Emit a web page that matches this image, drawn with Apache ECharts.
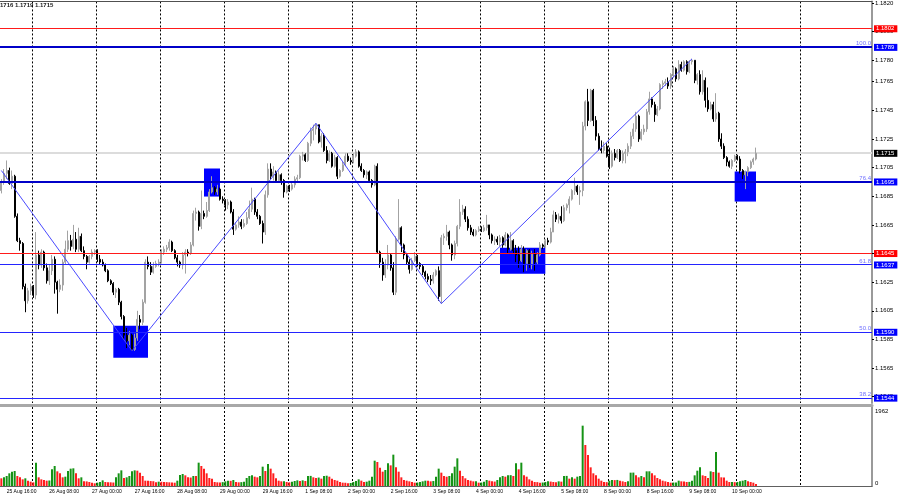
<!DOCTYPE html>
<html><head><meta charset="utf-8">
<script src="https://cdn.jsdelivr.net/npm/echarts@6/dist/echarts.min.js"></script>
<style>html,body{margin:0;padding:0;background:#fff}#c{width:900px;height:500px}</style>
</head><body><div id="c"></div>
<script>
// H1 candles: [open, close, low, high]
const ohlc = [
[1.1689,1.1695,1.1687,1.1697],[1.1695,1.1701,1.1693,1.1704],[1.1701,1.1703,1.1697,1.1710],[1.1703,1.1694,1.1693,1.1705],
[1.1694,1.1699,1.1690,1.1703],[1.1699,1.1671,1.1670,1.1700],[1.1671,1.1654,1.1653,1.1673],[1.1654,1.1652,1.1647,1.1656],
[1.1652,1.1622,1.1620,1.1653],[1.1622,1.1612,1.1604,1.1624],[1.1612,1.1619,1.1610,1.1621],[1.1619,1.1622,1.1616,1.1624],
[1.1622,1.1616,1.1614,1.1623],[1.1616,1.1644,1.1613,1.1660],[1.1644,1.1637,1.1634,1.1647],[1.1637,1.1646,1.1635,1.1648],
[1.1646,1.1635,1.1633,1.1647],[1.1635,1.1626,1.1624,1.1638],[1.1626,1.1633,1.1623,1.1637],[1.1633,1.1641,1.1630,1.1644],
[1.1641,1.1625,1.1617,1.1643],[1.1625,1.1620,1.1603,1.1626],[1.1620,1.1623,1.1618,1.1627],[1.1623,1.1639,1.1619,1.1641],
[1.1639,1.1648,1.1637,1.1654],[1.1648,1.1654,1.1646,1.1661],[1.1654,1.1650,1.1647,1.1658],[1.1650,1.1655,1.1648,1.1665],
[1.1655,1.1648,1.1646,1.1660],[1.1648,1.1657,1.1646,1.1663],[1.1657,1.1647,1.1646,1.1659],[1.1647,1.1643,1.1641,1.1650],
[1.1643,1.1639,1.1634,1.1644],[1.1639,1.1643,1.1638,1.1644],[1.1643,1.1646,1.1641,1.1648],[1.1646,1.1647,1.1644,1.1648],
[1.1647,1.1641,1.1639,1.1648],[1.1641,1.1639,1.1637,1.1644],[1.1639,1.1637,1.1636,1.1641],[1.1637,1.1633,1.1632,1.1638],
[1.1633,1.1626,1.1625,1.1634],[1.1626,1.1624,1.1623,1.1627],[1.1624,1.1618,1.1616,1.1625],[1.1618,1.1620,1.1614,1.1621],
[1.1620,1.1611,1.1609,1.1621],[1.1611,1.1601,1.1599,1.1612],[1.1601,1.1588,1.1585,1.1602],[1.1588,1.1584,1.1579,1.1593],
[1.1584,1.1588,1.1581,1.1591],[1.1588,1.1578,1.1577,1.1589],[1.1578,1.1586,1.1577,1.1589],[1.1586,1.1599,1.1584,1.1605],
[1.1599,1.1597,1.1592,1.1602],[1.1597,1.1611,1.1595,1.1613],[1.1611,1.1639,1.1610,1.1641],[1.1639,1.1636,1.1634,1.1643],
[1.1636,1.1632,1.1630,1.1639],[1.1632,1.1636,1.1631,1.1639],[1.1636,1.1638,1.1635,1.1640],[1.1638,1.1639,1.1636,1.1641],
[1.1639,1.1646,1.1638,1.1648],[1.1646,1.1648,1.1644,1.1650],[1.1648,1.1649,1.1646,1.1651],[1.1649,1.1653,1.1647,1.1655],
[1.1653,1.1647,1.1646,1.1654],[1.1647,1.1642,1.1641,1.1648],[1.1642,1.1639,1.1636,1.1644],[1.1639,1.1637,1.1635,1.1640],
[1.1637,1.1644,1.1634,1.1646],[1.1644,1.1646,1.1631,1.1648],[1.1646,1.1645,1.1643,1.1648],[1.1645,1.1651,1.1644,1.1653],
[1.1651,1.1673,1.1650,1.1675],[1.1673,1.1674,1.1668,1.1677],[1.1674,1.1664,1.1661,1.1675],[1.1664,1.1673,1.1662,1.1689],
[1.1673,1.1671,1.1669,1.1675],[1.1671,1.1675,1.1670,1.1681],[1.1675,1.1688,1.1674,1.1690],[1.1688,1.1691,1.1687,1.1699],
[1.1691,1.1688,1.1686,1.1692],[1.1688,1.1690,1.1686,1.1693],[1.1690,1.1683,1.1682,1.1691],[1.1683,1.1682,1.1680,1.1685],
[1.1682,1.1679,1.1675,1.1683],[1.1679,1.1681,1.1676,1.1683],[1.1681,1.1674,1.1673,1.1682],[1.1674,1.1662,1.1658,1.1676],
[1.1662,1.1665,1.1661,1.1667],[1.1665,1.1667,1.1663,1.1671],[1.1667,1.1664,1.1662,1.1669],[1.1664,1.1666,1.1663,1.1669],
[1.1666,1.1670,1.1665,1.1674],[1.1670,1.1676,1.1669,1.1682],[1.1676,1.1683,1.1674,1.1691],[1.1683,1.1674,1.1672,1.1684],
[1.1674,1.1671,1.1669,1.1676],[1.1671,1.1666,1.1665,1.1672],[1.1666,1.1660,1.1652,1.1668],[1.1660,1.1686,1.1658,1.1689],
[1.1686,1.1704,1.1684,1.1708],[1.1704,1.1699,1.1697,1.1708],[1.1699,1.1702,1.1696,1.1706],[1.1702,1.1696,1.1695,1.1703],
[1.1696,1.1700,1.1695,1.1703],[1.1700,1.1696,1.1693,1.1701],[1.1696,1.1688,1.1684,1.1697],[1.1688,1.1692,1.1687,1.1693],
[1.1692,1.1690,1.1688,1.1693],[1.1690,1.1693,1.1689,1.1695],[1.1693,1.1697,1.1691,1.1699],[1.1697,1.1698,1.1695,1.1700],
[1.1698,1.1713,1.1697,1.1714],[1.1713,1.1714,1.1710,1.1716],[1.1714,1.1710,1.1709,1.1715],[1.1710,1.1722,1.1709,1.1723],
[1.1722,1.1731,1.1720,1.1733],[1.1731,1.1732,1.1724,1.1735],[1.1732,1.1735,1.1728,1.1736],[1.1735,1.1723,1.1722,1.1735],
[1.1723,1.1727,1.1719,1.1729],[1.1727,1.1717,1.1716,1.1729],[1.1717,1.1710,1.1708,1.1720],[1.1710,1.1715,1.1709,1.1717],
[1.1715,1.1706,1.1705,1.1716],[1.1706,1.1712,1.1705,1.1714],[1.1712,1.1699,1.1697,1.1713],[1.1699,1.1703,1.1698,1.1704],
[1.1703,1.1707,1.1702,1.1709],[1.1707,1.1713,1.1706,1.1715],[1.1713,1.1710,1.1709,1.1715],[1.1710,1.1709,1.1707,1.1712],
[1.1709,1.1713,1.1708,1.1715],[1.1713,1.1716,1.1712,1.1718],[1.1716,1.1706,1.1705,1.1717],[1.1706,1.1703,1.1702,1.1708],
[1.1703,1.1700,1.1698,1.1704],[1.1700,1.1702,1.1697,1.1703],[1.1702,1.1696,1.1695,1.1703],[1.1696,1.1693,1.1691,1.1697],
[1.1693,1.1706,1.1692,1.1707],[1.1706,1.1646,1.1645,1.1708],[1.1646,1.1639,1.1635,1.1647],[1.1639,1.1630,1.1626,1.1642],
[1.1630,1.1637,1.1628,1.1641],[1.1637,1.1644,1.1634,1.1651],[1.1644,1.1635,1.1633,1.1645],[1.1635,1.1618,1.1616,1.1639],
[1.1618,1.1655,1.1616,1.1657],[1.1655,1.1663,1.1654,1.1683],[1.1663,1.1651,1.1646,1.1664],[1.1651,1.1644,1.1641,1.1652],
[1.1644,1.1639,1.1637,1.1645],[1.1639,1.1634,1.1631,1.1641],[1.1634,1.1640,1.1633,1.1642],[1.1640,1.1643,1.1639,1.1646],
[1.1643,1.1638,1.1636,1.1644],[1.1638,1.1636,1.1634,1.1639],[1.1636,1.1632,1.1630,1.1637],[1.1632,1.1629,1.1627,1.1633],
[1.1629,1.1627,1.1625,1.1631],[1.1627,1.1626,1.1623,1.1630],[1.1626,1.1630,1.1624,1.1632],[1.1630,1.1633,1.1629,1.1634],
[1.1633,1.1615,1.1612,1.1636],[1.1615,1.1656,1.1610,1.1658],[1.1656,1.1657,1.1651,1.1659],[1.1657,1.1660,1.1654,1.1665],
[1.1660,1.1651,1.1648,1.1661],[1.1651,1.1644,1.1640,1.1652],[1.1644,1.1652,1.1641,1.1654],[1.1652,1.1664,1.1650,1.1665],
[1.1664,1.1674,1.1662,1.1683],[1.1674,1.1676,1.1672,1.1679],[1.1676,1.1669,1.1667,1.1678],[1.1669,1.1663,1.1661,1.1671],
[1.1663,1.1660,1.1658,1.1665],[1.1660,1.1658,1.1657,1.1662],[1.1658,1.1661,1.1657,1.1662],[1.1661,1.1662,1.1660,1.1664],
[1.1662,1.1661,1.1660,1.1664],[1.1661,1.1663,1.1660,1.1665],[1.1663,1.1665,1.1661,1.1672],[1.1665,1.1658,1.1655,1.1665],
[1.1658,1.1654,1.1652,1.1659],[1.1654,1.1655,1.1651,1.1657],[1.1655,1.1653,1.1651,1.1657],[1.1653,1.1656,1.1650,1.1658],
[1.1656,1.1651,1.1649,1.1657],[1.1651,1.1658,1.1650,1.1660],[1.1658,1.1648,1.1645,1.1659],[1.1648,1.1654,1.1647,1.1660],
[1.1654,1.1647,1.1645,1.1655],[1.1647,1.1644,1.1639,1.1651],[1.1644,1.1640,1.1635,1.1650],[1.1640,1.1648,1.1639,1.1651],
[1.1648,1.1638,1.1632,1.1650],[1.1638,1.1647,1.1633,1.1648],[1.1647,1.1637,1.1635,1.1648],[1.1637,1.1645,1.1634,1.1647],
[1.1645,1.1639,1.1633,1.1648],[1.1639,1.1644,1.1637,1.1646],[1.1644,1.1651,1.1643,1.1653],[1.1651,1.1650,1.1648,1.1652],
[1.1650,1.1654,1.1649,1.1655],[1.1654,1.1653,1.1651,1.1656],[1.1653,1.1660,1.1652,1.1663],[1.1660,1.1672,1.1660,1.1675],
[1.1672,1.1669,1.1667,1.1674],[1.1669,1.1671,1.1666,1.1673],[1.1671,1.1668,1.1666,1.1678],[1.1668,1.1677,1.1667,1.1679],
[1.1677,1.1679,1.1675,1.1680],[1.1679,1.1683,1.1673,1.1685],[1.1683,1.1689,1.1682,1.1690],[1.1689,1.1692,1.1686,1.1698],
[1.1692,1.1688,1.1686,1.1693],[1.1688,1.1689,1.1679,1.1692],[1.1689,1.1734,1.1685,1.1737],[1.1734,1.1751,1.1731,1.1752],
[1.1751,1.1738,1.1734,1.1760],[1.1738,1.1759,1.1737,1.1760],[1.1759,1.1738,1.1734,1.1760],[1.1738,1.1727,1.1724,1.1741],
[1.1727,1.1718,1.1717,1.1729],[1.1718,1.1717,1.1715,1.1724],[1.1717,1.1720,1.1715,1.1723],[1.1720,1.1713,1.1712,1.1722],
[1.1713,1.1706,1.1704,1.1719],[1.1706,1.1715,1.1705,1.1717],[1.1715,1.1712,1.1710,1.1718],[1.1712,1.1717,1.1711,1.1718],
[1.1717,1.1710,1.1709,1.1718],[1.1710,1.1715,1.1708,1.1717],[1.1715,1.1716,1.1708,1.1718],[1.1716,1.1720,1.1713,1.1722],
[1.1720,1.1727,1.1718,1.1730],[1.1727,1.1732,1.1725,1.1736],[1.1732,1.1741,1.1730,1.1744],[1.1741,1.1725,1.1723,1.1742],
[1.1725,1.1730,1.1724,1.1732],[1.1730,1.1732,1.1728,1.1735],[1.1732,1.1744,1.1730,1.1746],[1.1744,1.1753,1.1742,1.1758],
[1.1753,1.1749,1.1747,1.1754],[1.1749,1.1742,1.1737,1.1751],[1.1742,1.1746,1.1741,1.1748],[1.1746,1.1763,1.1745,1.1764],
[1.1763,1.1764,1.1760,1.1766],[1.1764,1.1765,1.1762,1.1767],[1.1765,1.1762,1.1760,1.1768],[1.1762,1.1770,1.1760,1.1771],
[1.1770,1.1774,1.1768,1.1776],[1.1774,1.1767,1.1765,1.1775],[1.1767,1.1777,1.1766,1.1780],[1.1777,1.1773,1.1772,1.1779],
[1.1773,1.1779,1.1772,1.1780],[1.1779,1.1772,1.1770,1.1780],[1.1772,1.1779,1.1771,1.1780],[1.1779,1.1780,1.1777,1.1781],
[1.1780,1.1766,1.1764,1.1780],[1.1766,1.1770,1.1763,1.1771],[1.1770,1.1758,1.1756,1.1773],[1.1758,1.1766,1.1756,1.1773],
[1.1766,1.1752,1.1747,1.1768],[1.1752,1.1746,1.1744,1.1761],[1.1746,1.1749,1.1745,1.1751],[1.1749,1.1739,1.1737,1.1751],
[1.1739,1.1743,1.1737,1.1757],[1.1743,1.1725,1.1723,1.1744],[1.1725,1.1720,1.1718,1.1729],[1.1720,1.1712,1.1711,1.1722],
[1.1712,1.1709,1.1706,1.1713],[1.1709,1.1706,1.1705,1.1710],[1.1706,1.1710,1.1704,1.1711],[1.1710,1.1713,1.1709,1.1714],
[1.1713,1.1711,1.1710,1.1714],[1.1711,1.1703,1.1701,1.1713],[1.1703,1.1700,1.1697,1.1704],[1.1700,1.1702,1.1690,1.1703],
[1.1702,1.1705,1.1699,1.1706],[1.1705,1.1709,1.1704,1.1710],[1.1709,1.1711,1.1707,1.1712],[1.1711,1.1715,1.1710,1.1719]
];
const volumes = [
209,236,272,345,390,408,272,236,181,209, 145,118,100,635,236,181,163,145,150,454,
544,399,345,236,254,408,472,481,345,209, 236,127,125,109,91,73,91,109,154,109,
105,100,95,236,345,426,218,236,272,399, 426,417,363,272,145,140,135,130,100,118,
115,110,105,100,95,90,145,299,327,290, 236,230,272,272,635,544,472,345,218,200,
109,100,95,105,127,145,140,163,109,100, 105,118,218,272,290,254,236,272,526,408,
599,472,345,209,145,127,130,109,100,118, 136,154,136,154,136,272,275,236,218,230,
200,272,280,254,200,163,145,109,91,88, 73,82,109,136,181,145,109,118,145,254,
689,653,499,390,435,617,562,853,508,390, 236,163,145,127,109,91,95,109,127,145,
140,127,135,254,472,363,272,254,272,345, 526,753,417,272,209,163,145,127,130,91,
95,118,163,145,127,120,163,236,272,254, 290,295,272,617,454,635,290,254,181,145,
109,105,91,95,109,127,120,109,105,127, 118,272,275,200,236,200,254,272,1642,1116,
843,508,345,290,200,145,109,105,145,163, 160,165,145,127,109,127,363,365,290,236,
272,236,399,400,345,290,218,181,145,127, 109,91,95,98,145,127,125,109,112,145,
290,417,508,290,272,218,399,381,925,363, 236,230,145,109,112,105,110,127,145,163,
127,109,91,55
];
const slotCount = 327;
const timeLabels = ['25 Aug 16:00','26 Aug 08:00','27 Aug 00:00','27 Aug 16:00','28 Aug 08:00','29 Aug 00:00','29 Aug 16:00','1 Sep 08:00','2 Sep 00:00','2 Sep 16:00','3 Sep 08:00','4 Sep 00:00','4 Sep 16:00','5 Sep 08:00','8 Sep 00:00','8 Sep 16:00','9 Sep 08:00','10 Sep 00:00'];
const timeLabelBars = [2,18,34,50,66,82,98,114,130,146,162,178,194,210,226,242,258,274];
const gridBars = [12,36,60,84,108,132,156,180,204,228,252,276,300];
const priceTicks = [1.1545,1.1565,1.1585,1.1605,1.1625,1.1645,1.1665,1.1685,1.1705,1.1725,1.1745,1.1765,1.1780,1.1800,1.1820];
const volumeTicks = [0,1962];
const zigzag = [[0,1.1703],[49,1.1577],[118,1.1736],[165,1.1610],[259,1.1781]];
const zones = [[42,55,1.15945,1.15722],[76,82,1.17044,1.16848],[187,204,1.16491,1.16309],[275,283,1.17023,1.16813]];
const redLevels = [1.1802,1.1645];
const blueLevels = [1.1789,1.1695,1.1637,1.1590,1.1544];
const fibTexts = ['100.0','76.4','61.8','50.0','38.2'];
const lastPrice = 1.1715;
const headerText = '1716 1.1719 1.1715';

const FONT = '"Liberation Sans", Arial, sans-serif';
const cats = Array.from({length: slotCount}, (_, i) => String(i));
const GREEN = '#159315', RED = '#ff1d1d';
const volData = volumes.map((v, i) => ({value: v, itemStyle: {color: (i > 0 && v > volumes[i-1]) ? GREEN : RED}}));
const thickBlue = [1.1789, 1.1695];

// style lookup for the horizontal levels (drawn crisp via custom series)
const levelValues = [...redLevels, ...blueLevels];
const levelColors = levelValues.map(v => redLevels.includes(v) ? '#ff1a1a' : (thickBlue.includes(v) ? '#0000c8' : '#2424ff'));
const levelWidths = levelValues.map(v => thickBlue.includes(v) ? 2 : 1);

function hLineRenderer(colors, widths) {
  return (params, api) => {
    const cs = params.coordSys;
    const y = api.coord([0, api.value(1)])[1];
    const w = widths[params.dataIndex];
    const yy = (w % 2 === 1) ? Math.floor(y) + 0.5 : Math.round(y);
    return {type: 'line', silent: true,
      shape: {x1: cs.x, y1: yy, x2: cs.x + cs.width, y2: yy},
      style: {stroke: colors[params.dataIndex], lineWidth: w}};
  };
}

const boxLabel = (v, bg) => ({show: true, position: 'end', formatter: v.toFixed(4), color: '#fff', backgroundColor: bg,
  padding: [1,3,0,2], fontSize: 6, distance: 2, fontFamily: FONT});
const labelLines = [];
redLevels.forEach(v => labelLines.push({yAxis: v, label: boxLabel(v, '#ff0000')}));
blueLevels.forEach((v, i) => {
  labelLines.push({yAxis: v, label: boxLabel(v, '#0000ff')});
  labelLines.push({yAxis: v, label: {show: true, position: 'insideEndTop', formatter: fibTexts[i], color: '#7070ff', fontSize: 6, distance: 1, fontFamily: FONT}});
});

const splitLineCfg = {show: true, interval: (i) => gridBars.includes(i), lineStyle: {color: '#000', type: [2, 2], width: 1}};

const chart = echarts.init(document.getElementById('c'));
chart.setOption({
  animation: false,
  backgroundColor: '#fff',
  textStyle: {fontFamily: FONT},
  grid: [
    {left: 0, right: 28, top: 1, height: 402},
    {left: 0, right: 28, top: 407, height: 79}
  ],
  xAxis: [
    {type: 'category', gridIndex: 0, data: cats, boundaryGap: true, offset: 2,
     axisLine: {show: true, onZero: false, lineStyle: {color: '#a8a8a8', width: 3}},
     axisTick: {show: false}, axisLabel: {show: false}, splitLine: splitLineCfg},
    {type: 'category', gridIndex: 1, data: cats, boundaryGap: true,
     axisLine: {show: true, onZero: false, lineStyle: {color: '#606060', width: 1}},
     axisTick: {show: false},
     axisLabel: {show: true, interval: (i) => timeLabelBars.includes(i),
       formatter: (v) => timeLabels[timeLabelBars.indexOf(Number(v))] || '',
       align: 'left', fontSize: 5, color: '#000', margin: 3, fontFamily: FONT},
     splitLine: splitLineCfg},
    {type: 'category', gridIndex: 0, data: cats, position: 'top',
     axisLine: {show: true, onZero: false, lineStyle: {color: '#505050', width: 1}},
     axisTick: {show: false}, axisLabel: {show: false}, splitLine: {show: false}}
  ],
  yAxis: [
    {type: 'value', gridIndex: 0, position: 'right', min: 1.15406, max: 1.18211,
     splitLine: {show: false},
     axisLine: {show: true, lineStyle: {color: '#9a9a9a', width: 2}},
     axisTick: {show: true, length: 2, customValues: priceTicks, lineStyle: {color: '#000'}},
     axisLabel: {customValues: priceTicks, formatter: (v) => v.toFixed(4), fontSize: 6, color: '#000', margin: 3, fontFamily: FONT}},
    {type: 'value', gridIndex: 1, position: 'right', min: 0, max: 2150,
     splitLine: {show: false},
     axisLine: {show: true, lineStyle: {color: '#9a9a9a', width: 2}},
     axisTick: {show: false},
     axisLabel: {customValues: volumeTicks, formatter: (v) => String(v), verticalAlign: 'bottom', fontSize: 6, color: '#000', margin: 3, fontFamily: FONT}}
  ],
  graphic: [{type: 'text', left: 0, top: 2, style: {text: headerText, fill: '#222', font: 'bold 6px ' + FONT}}],
  series: [
    {type: 'line', xAxisIndex: 0, yAxisIndex: 0, data: [], silent: true,
     markArea: {silent: true, z: 1, itemStyle: {color: '#0000ff', opacity: 1},
       data: zones.map(z => [{xAxis: z[0], yAxis: z[2]}, {xAxis: z[1], yAxis: z[3]}])}},
    {type: 'custom', xAxisIndex: 0, yAxisIndex: 0, z: 1, silent: true,
     data: [[0, lastPrice]], renderItem: hLineRenderer(['#dcdcdc'], [2])},
    {type: 'line', xAxisIndex: 0, yAxisIndex: 0, data: [], silent: true,
     markLine: {silent: true, z: 1, precision: 5, symbol: ['none', 'none'], animation: false,
       lineStyle: {color: 'rgba(0,0,0,0)', width: 1, type: 'solid'},
       data: [{yAxis: lastPrice, label: boxLabel(lastPrice, '#000')}]}},
    {type: 'candlestick', xAxisIndex: 0, yAxisIndex: 0, data: ohlc, barWidth: 1.4, z: 3,
     itemStyle: {color: '#a3a3a3', color0: '#000', borderColor: '#a3a3a3', borderColor0: '#000', borderWidth: 1}},
    {type: 'line', xAxisIndex: 0, yAxisIndex: 0, data: zigzag, symbol: 'none', silent: true, z: 4,
     lineStyle: {color: '#4a4aff', width: 1}},
    {type: 'custom', xAxisIndex: 0, yAxisIndex: 0, z: 5, silent: true,
     data: levelValues.map(v => [0, v]), renderItem: hLineRenderer(levelColors, levelWidths)},
    {type: 'line', xAxisIndex: 0, yAxisIndex: 0, data: [], silent: true,
     markLine: {silent: true, z: 6, precision: 5, symbol: ['none', 'none'], animation: false,
       lineStyle: {color: 'rgba(0,0,0,0)', width: 1, type: 'solid'}, data: labelLines}},
    {type: 'bar', xAxisIndex: 1, yAxisIndex: 1, data: volData, barWidth: 2}
  ]
});
</script>
</body></html>
